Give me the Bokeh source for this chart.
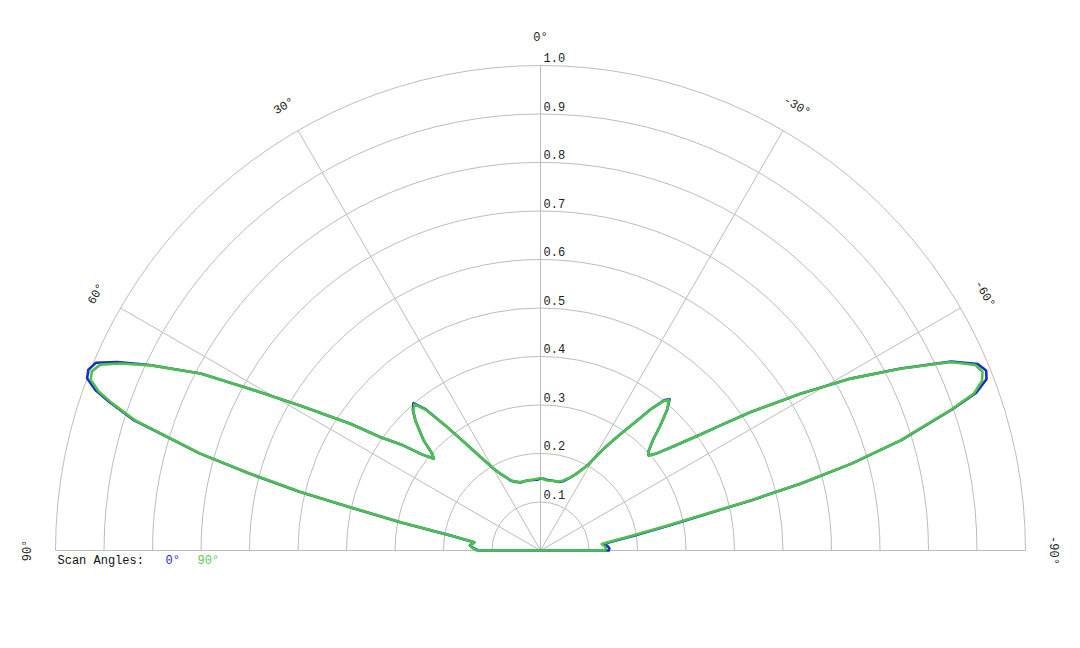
import numpy as np
from bokeh.plotting import figure
from bokeh.models import Range1d, ColumnDataSource
from bokeh.core.properties import value
from bokeh.embed import file_html
from bokeh.resources import INLINE

# ---------------- data ----------------
# pattern angle in degrees (0 = broadside/top, positive to the left)
angles = [-90, -90, -88, -86, -84, -82.5, -81, -80, -79, -77.7, -76.6, -75.6, -74.4,
          -73.0, -71.1, -70.1, -69.0, -68.0, -66.9, -65.3, -63.2, -61.0, -58.9, -56.6,
          -55.2, -54.0, -52, -50, -48.7, -47.5, -45.5, -43.8, -42, -40.5, -39.5, -38,
          -36.5, -34.4, -32, -30, -28.9, -26.6, -24.5, -22.3, -18, -14.9, -10, -5.5,
          -2.5, -1, 1, 2.6, 5.6, 10.8, 16.4, 20.9, 23.2, 25, 27.5, 29.8, 32.7, 35,
          37.1, 39.2, 40.8, 42.3, 43.9, 46.7, 48.2, 49.3, 51, 52.7, 54.7, 56.3, 58.9,
          60.9, 62.5, 64.6, 66.0, 67.1, 68.2, 69.2, 70.2, 71.0, 72.2, 73.2, 74.1, 75.2,
          76.3, 77.2, 78.6, 80.5, 82.9, 84.5, 85.9, 88, 90, 90]

# normalised amplitude, scan angle 90°
r_scan90 = [0, 0.133, 0.135, 0.132, 0.127, 0.148, 0.185, 0.215, 0.262, 0.336, 0.445, 0.553, 0.664,
            0.776, 0.893, 0.950, 0.975, 0.983, 0.975, 0.930, 0.831, 0.731, 0.626, 0.518,
            0.452, 0.405, 0.350, 0.310, 0.297, 0.302, 0.325, 0.357, 0.390, 0.408, 0.400, 0.370,
            0.330, 0.290, 0.250, 0.215, 0.200, 0.184, 0.172, 0.163, 0.152, 0.147, 0.146, 0.145,
            0.147, 0.149, 0.149, 0.148, 0.147, 0.147, 0.147, 0.153, 0.158, 0.166, 0.178, 0.195, 0.229, 0.270,
            0.319, 0.375, 0.398, 0.390, 0.372, 0.331, 0.300, 0.290, 0.315, 0.360, 0.404, 0.471, 0.578,
            0.685, 0.790, 0.890, 0.948, 0.985, 0.996, 0.992, 0.968, 0.935, 0.878, 0.792, 0.729, 0.619,
            0.509, 0.402, 0.294, 0.188, 0.137, 0.140, 0.145, 0.140, 0.131, 0]

# normalised amplitude, scan angle 0°
r_scan0 = [0, 0.141, 0.142, 0.138, 0.132, 0.155, 0.195, 0.226, 0.272, 0.342, 0.448, 0.555, 0.666,
           0.778, 0.896, 0.955, 0.985, 0.991, 0.980, 0.932, 0.832, 0.731, 0.626, 0.518,
           0.452, 0.405, 0.350, 0.310, 0.297, 0.302, 0.325, 0.357, 0.390, 0.410, 0.402, 0.370,
           0.330, 0.290, 0.250, 0.215, 0.200, 0.184, 0.172, 0.163, 0.150, 0.146, 0.146, 0.146,
           0.148, 0.149, 0.148, 0.146, 0.146, 0.147, 0.146, 0.152, 0.157, 0.166, 0.178, 0.195, 0.229, 0.270,
           0.319, 0.377, 0.401, 0.391, 0.372, 0.331, 0.300, 0.290, 0.315, 0.360, 0.404, 0.471, 0.578,
           0.685, 0.790, 0.892, 0.955, 0.995, 1.004, 1.000, 0.975, 0.940, 0.882, 0.795, 0.731, 0.621,
           0.510, 0.403, 0.295, 0.189, 0.138, 0.141, 0.146, 0.138, 0.128, 0]

ring_values = [0.1, 0.2, 0.3, 0.4, 0.5, 0.6, 0.7, 0.8, 0.9, 1.0]
ring_labels = ["0.1", "0.2", "0.3", "0.4", "0.5", "0.6", "0.7", "0.8", "0.9", "1.0"]
spoke_angles = [-60, -30, 0, 30, 60]
angle_ticks = [90, 60, 30, 0, -30, -60, -90]
angle_labels = ["90°", "60°", "30°", "0°", "-30°", "-60°", "-90°"]
legend_title = "Scan Angles:"
series_names = ["0°", "90°"]

# ---------------- layout ----------------
W, H = 1064, 632
CX, CY = 540, 550      # pixel position of the pole inside the figure
S = 485.0              # pixels per unit radius
FONT = value("Liberation Mono")
GRID = "#bcbcbc"
BLUE = "#1a2ec4"
GREEN = "#4cc24c"

p = figure(width=W, height=H,
           x_range=Range1d(-CX / S, (W - CX) / S),
           y_range=Range1d(-(H - CY) / S, CY / S),
           output_backend="svg", toolbar_location=None, min_border=0)
p.axis.visible = False
p.grid.visible = False
p.outline_line_color = None
p.background_fill_color = "white"
p.border_fill_color = "white"

# rings
p.arc(x=0, y=0, radius=ring_values, start_angle=0, end_angle=np.pi,
      line_color=GRID, line_width=1)

# spokes
sa = np.radians(spoke_angles)
p.segment(x0=0, y0=0, x1=-np.sin(sa), y1=np.cos(sa), line_color=GRID, line_width=1)
p.segment(x0=[-1.0], y0=[0], x1=[1.0], y1=[0], line_color=GRID, line_width=1)

# ring labels
p.text(x=[0] * len(ring_values), y=ring_values, text=ring_labels,
       x_offset=3, y_offset=-8, text_font=FONT, text_font_size="12px",
       text_align="left", text_baseline="alphabetic", text_color="#222222")

# angle labels
ta = np.radians(angle_ticks)
RL = 1.057
p.text(x=-RL * np.sin(ta), y=RL * np.cos(ta), text=angle_labels, angle=ta,
       text_font=FONT, text_font_size="12px", text_align="center",
       text_baseline="middle", text_color="#222222")

# pattern curves
for rr, col in ((r_scan0, BLUE), (r_scan90, GREEN)):
    a = np.radians(angles)
    r = np.array(rr)
    src = ColumnDataSource(dict(x=-r * np.sin(a), y=r * np.cos(a)))
    p.line("x", "y", source=src, line_color=col, line_width=2.6, line_join="round")

# legend text
p.text(x=[-1.0], y=[0], text=[legend_title], x_offset=2, y_offset=10,
       text_font=FONT, text_font_size="12px", text_align="left",
       text_baseline="alphabetic", text_color="#111111")
p.text(x=[-1.0], y=[0], text=[series_names[0]], x_offset=110, y_offset=10,
       text_font=FONT, text_font_size="12px", text_align="left",
       text_baseline="alphabetic", text_color=BLUE)
p.text(x=[-1.0], y=[0], text=[series_names[1]], x_offset=142, y_offset=10,
       text_font=FONT, text_font_size="12px", text_align="left",
       text_baseline="alphabetic", text_color="#5ac85a")

open("out.html", "w").write(file_html(p, INLINE))
